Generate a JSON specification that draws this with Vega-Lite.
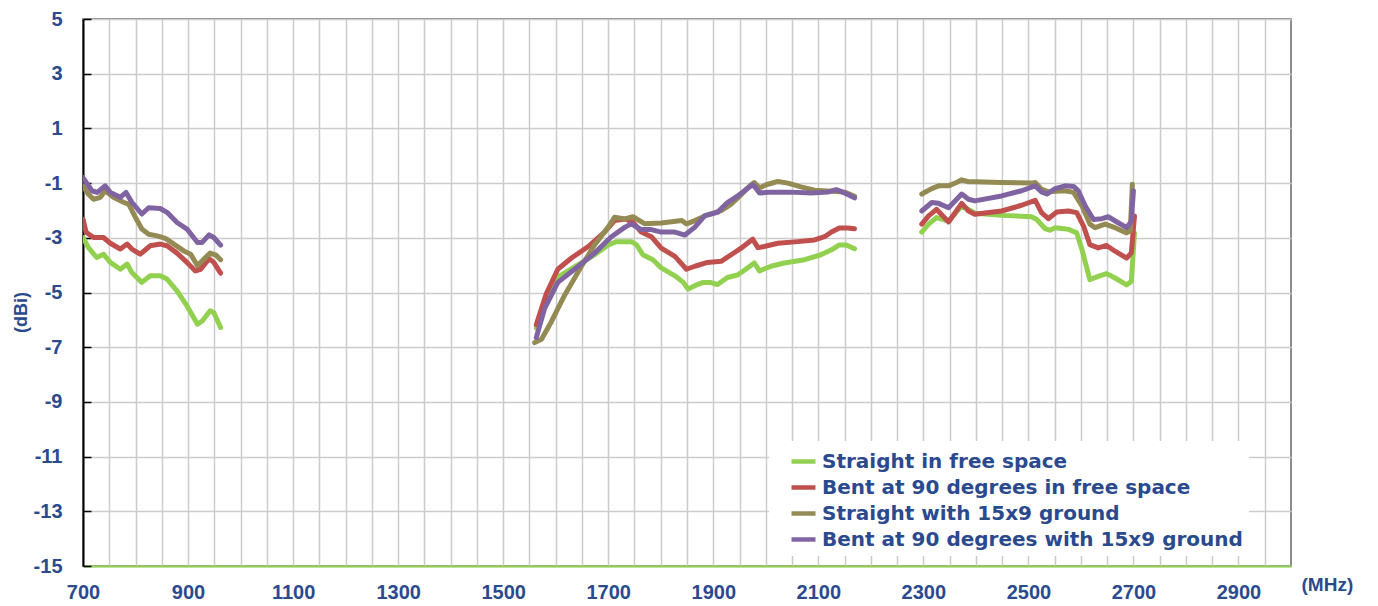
{
  "$schema": "https://vega.github.io/schema/vega-lite/v6.json",
  "width": 1208,
  "height": 547,
  "autosize": {"type": "none"},
  "padding": {"left": 83, "top": 19, "right": 87, "bottom": 40},
  "background": "white",
  "config": {
    "view": {"stroke": "#8c8c8c", "strokeWidth": 2},
    "font": "Liberation Sans"
  },
  "data": {
    "values": [
      {"s": "Straight in free space", "g": 1, "f": 700, "v": -2.99},
      {"s": "Straight in free space", "g": 1, "f": 710, "v": -3.35},
      {"s": "Straight in free space", "g": 1, "f": 726, "v": -3.72},
      {"s": "Straight in free space", "g": 1, "f": 739, "v": -3.6},
      {"s": "Straight in free space", "g": 1, "f": 752, "v": -3.9},
      {"s": "Straight in free space", "g": 1, "f": 771, "v": -4.15},
      {"s": "Straight in free space", "g": 1, "f": 784, "v": -3.96},
      {"s": "Straight in free space", "g": 1, "f": 793, "v": -4.27},
      {"s": "Straight in free space", "g": 1, "f": 812, "v": -4.63},
      {"s": "Straight in free space", "g": 1, "f": 828, "v": -4.39},
      {"s": "Straight in free space", "g": 1, "f": 847, "v": -4.39},
      {"s": "Straight in free space", "g": 1, "f": 860, "v": -4.51},
      {"s": "Straight in free space", "g": 1, "f": 879, "v": -4.94},
      {"s": "Straight in free space", "g": 1, "f": 898, "v": -5.49},
      {"s": "Straight in free space", "g": 1, "f": 918, "v": -6.16},
      {"s": "Straight in free space", "g": 1, "f": 927, "v": -6.04},
      {"s": "Straight in free space", "g": 1, "f": 942, "v": -5.67},
      {"s": "Straight in free space", "g": 1, "f": 949, "v": -5.73},
      {"s": "Straight in free space", "g": 1, "f": 962, "v": -6.28},

      {"s": "Straight in free space", "g": 2, "f": 1563, "v": -6.3},
      {"s": "Straight in free space", "g": 2, "f": 1585, "v": -5.1},
      {"s": "Straight in free space", "g": 2, "f": 1608, "v": -4.39},
      {"s": "Straight in free space", "g": 2, "f": 1643, "v": -3.98},
      {"s": "Straight in free space", "g": 2, "f": 1674, "v": -3.62},
      {"s": "Straight in free space", "g": 2, "f": 1700, "v": -3.26},
      {"s": "Straight in free space", "g": 2, "f": 1716, "v": -3.14},
      {"s": "Straight in free space", "g": 2, "f": 1744, "v": -3.14},
      {"s": "Straight in free space", "g": 2, "f": 1754, "v": -3.26},
      {"s": "Straight in free space", "g": 2, "f": 1766, "v": -3.62},
      {"s": "Straight in free space", "g": 2, "f": 1785, "v": -3.8},
      {"s": "Straight in free space", "g": 2, "f": 1801, "v": -4.1},
      {"s": "Straight in free space", "g": 2, "f": 1827, "v": -4.39},
      {"s": "Straight in free space", "g": 2, "f": 1843, "v": -4.63},
      {"s": "Straight in free space", "g": 2, "f": 1852, "v": -4.87},
      {"s": "Straight in free space", "g": 2, "f": 1865, "v": -4.75},
      {"s": "Straight in free space", "g": 2, "f": 1881, "v": -4.63},
      {"s": "Straight in free space", "g": 2, "f": 1894, "v": -4.63},
      {"s": "Straight in free space", "g": 2, "f": 1908, "v": -4.71},
      {"s": "Straight in free space", "g": 2, "f": 1927, "v": -4.45},
      {"s": "Straight in free space", "g": 2, "f": 1946, "v": -4.36},
      {"s": "Straight in free space", "g": 2, "f": 1962, "v": -4.15},
      {"s": "Straight in free space", "g": 2, "f": 1978, "v": -3.92},
      {"s": "Straight in free space", "g": 2, "f": 1988, "v": -4.21},
      {"s": "Straight in free space", "g": 2, "f": 2010, "v": -4.04},
      {"s": "Straight in free space", "g": 2, "f": 2035, "v": -3.92},
      {"s": "Straight in free space", "g": 2, "f": 2074, "v": -3.8},
      {"s": "Straight in free space", "g": 2, "f": 2105, "v": -3.62},
      {"s": "Straight in free space", "g": 2, "f": 2125, "v": -3.44},
      {"s": "Straight in free space", "g": 2, "f": 2140, "v": -3.26},
      {"s": "Straight in free space", "g": 2, "f": 2153, "v": -3.26},
      {"s": "Straight in free space", "g": 2, "f": 2169, "v": -3.4},

      {"s": "Straight in free space", "g": 3, "f": 2297, "v": -2.79},
      {"s": "Straight in free space", "g": 3, "f": 2310, "v": -2.5},
      {"s": "Straight in free space", "g": 3, "f": 2325, "v": -2.26},
      {"s": "Straight in free space", "g": 3, "f": 2348, "v": -2.39},
      {"s": "Straight in free space", "g": 3, "f": 2373, "v": -1.83},
      {"s": "Straight in free space", "g": 3, "f": 2398, "v": -2.1},
      {"s": "Straight in free space", "g": 3, "f": 2449, "v": -2.18},
      {"s": "Straight in free space", "g": 3, "f": 2506, "v": -2.23},
      {"s": "Straight in free space", "g": 3, "f": 2516, "v": -2.33},
      {"s": "Straight in free space", "g": 3, "f": 2532, "v": -2.67},
      {"s": "Straight in free space", "g": 3, "f": 2541, "v": -2.72},
      {"s": "Straight in free space", "g": 3, "f": 2551, "v": -2.63},
      {"s": "Straight in free space", "g": 3, "f": 2576, "v": -2.69},
      {"s": "Straight in free space", "g": 3, "f": 2592, "v": -2.82},
      {"s": "Straight in free space", "g": 3, "f": 2602, "v": -3.43},
      {"s": "Straight in free space", "g": 3, "f": 2617, "v": -4.53},
      {"s": "Straight in free space", "g": 3, "f": 2633, "v": -4.41},
      {"s": "Straight in free space", "g": 3, "f": 2649, "v": -4.31},
      {"s": "Straight in free space", "g": 3, "f": 2665, "v": -4.47},
      {"s": "Straight in free space", "g": 3, "f": 2687, "v": -4.72},
      {"s": "Straight in free space", "g": 3, "f": 2696, "v": -4.6},
      {"s": "Straight in free space", "g": 3, "f": 2702, "v": -2.82},

      {"s": "Bent at 90 degrees in free space", "g": 1, "f": 700, "v": -2.32},
      {"s": "Bent at 90 degrees in free space", "g": 1, "f": 706, "v": -2.8},
      {"s": "Bent at 90 degrees in free space", "g": 1, "f": 720, "v": -2.99},
      {"s": "Bent at 90 degrees in free space", "g": 1, "f": 739, "v": -2.99},
      {"s": "Bent at 90 degrees in free space", "g": 1, "f": 752, "v": -3.2},
      {"s": "Bent at 90 degrees in free space", "g": 1, "f": 771, "v": -3.41},
      {"s": "Bent at 90 degrees in free space", "g": 1, "f": 784, "v": -3.23},
      {"s": "Bent at 90 degrees in free space", "g": 1, "f": 793, "v": -3.41},
      {"s": "Bent at 90 degrees in free space", "g": 1, "f": 809, "v": -3.6},
      {"s": "Bent at 90 degrees in free space", "g": 1, "f": 828, "v": -3.29},
      {"s": "Bent at 90 degrees in free space", "g": 1, "f": 847, "v": -3.23},
      {"s": "Bent at 90 degrees in free space", "g": 1, "f": 860, "v": -3.29},
      {"s": "Bent at 90 degrees in free space", "g": 1, "f": 879, "v": -3.56},
      {"s": "Bent at 90 degrees in free space", "g": 1, "f": 898, "v": -3.9},
      {"s": "Bent at 90 degrees in free space", "g": 1, "f": 914, "v": -4.21},
      {"s": "Bent at 90 degrees in free space", "g": 1, "f": 924, "v": -4.15},
      {"s": "Bent at 90 degrees in free space", "g": 1, "f": 940, "v": -3.76},
      {"s": "Bent at 90 degrees in free space", "g": 1, "f": 949, "v": -3.9},
      {"s": "Bent at 90 degrees in free space", "g": 1, "f": 962, "v": -4.29},

      {"s": "Bent at 90 degrees in free space", "g": 2, "f": 1563, "v": -6.18},
      {"s": "Bent at 90 degrees in free space", "g": 2, "f": 1582, "v": -5.05},
      {"s": "Bent at 90 degrees in free space", "g": 2, "f": 1604, "v": -4.15},
      {"s": "Bent at 90 degrees in free space", "g": 2, "f": 1630, "v": -3.74},
      {"s": "Bent at 90 degrees in free space", "g": 2, "f": 1662, "v": -3.32},
      {"s": "Bent at 90 degrees in free space", "g": 2, "f": 1693, "v": -2.79},
      {"s": "Bent at 90 degrees in free space", "g": 2, "f": 1712, "v": -2.37},
      {"s": "Bent at 90 degrees in free space", "g": 2, "f": 1732, "v": -2.31},
      {"s": "Bent at 90 degrees in free space", "g": 2, "f": 1747, "v": -2.43},
      {"s": "Bent at 90 degrees in free space", "g": 2, "f": 1763, "v": -2.79},
      {"s": "Bent at 90 degrees in free space", "g": 2, "f": 1782, "v": -2.96},
      {"s": "Bent at 90 degrees in free space", "g": 2, "f": 1801, "v": -3.38},
      {"s": "Bent at 90 degrees in free space", "g": 2, "f": 1827, "v": -3.68},
      {"s": "Bent at 90 degrees in free space", "g": 2, "f": 1849, "v": -4.15},
      {"s": "Bent at 90 degrees in free space", "g": 2, "f": 1865, "v": -4.04},
      {"s": "Bent at 90 degrees in free space", "g": 2, "f": 1889, "v": -3.9},
      {"s": "Bent at 90 degrees in free space", "g": 2, "f": 1915, "v": -3.86},
      {"s": "Bent at 90 degrees in free space", "g": 2, "f": 1934, "v": -3.62},
      {"s": "Bent at 90 degrees in free space", "g": 2, "f": 1953, "v": -3.38},
      {"s": "Bent at 90 degrees in free space", "g": 2, "f": 1975, "v": -3.05},
      {"s": "Bent at 90 degrees in free space", "g": 2, "f": 1985, "v": -3.36},
      {"s": "Bent at 90 degrees in free space", "g": 2, "f": 1997, "v": -3.32},
      {"s": "Bent at 90 degrees in free space", "g": 2, "f": 2023, "v": -3.2},
      {"s": "Bent at 90 degrees in free space", "g": 2, "f": 2061, "v": -3.14},
      {"s": "Bent at 90 degrees in free space", "g": 2, "f": 2093, "v": -3.08},
      {"s": "Bent at 90 degrees in free space", "g": 2, "f": 2112, "v": -2.96},
      {"s": "Bent at 90 degrees in free space", "g": 2, "f": 2125, "v": -2.79},
      {"s": "Bent at 90 degrees in free space", "g": 2, "f": 2140, "v": -2.64},
      {"s": "Bent at 90 degrees in free space", "g": 2, "f": 2156, "v": -2.64},
      {"s": "Bent at 90 degrees in free space", "g": 2, "f": 2169, "v": -2.67},

      {"s": "Bent at 90 degrees in free space", "g": 3, "f": 2297, "v": -2.5},
      {"s": "Bent at 90 degrees in free space", "g": 3, "f": 2310, "v": -2.2},
      {"s": "Bent at 90 degrees in free space", "g": 3, "f": 2325, "v": -1.96},
      {"s": "Bent at 90 degrees in free space", "g": 3, "f": 2348, "v": -2.42},
      {"s": "Bent at 90 degrees in free space", "g": 3, "f": 2373, "v": -1.74},
      {"s": "Bent at 90 degrees in free space", "g": 3, "f": 2386, "v": -2.02},
      {"s": "Bent at 90 degrees in free space", "g": 3, "f": 2398, "v": -2.14},
      {"s": "Bent at 90 degrees in free space", "g": 3, "f": 2449, "v": -2.02},
      {"s": "Bent at 90 degrees in free space", "g": 3, "f": 2487, "v": -1.81},
      {"s": "Bent at 90 degrees in free space", "g": 3, "f": 2513, "v": -1.63},
      {"s": "Bent at 90 degrees in free space", "g": 3, "f": 2525, "v": -2.08},
      {"s": "Bent at 90 degrees in free space", "g": 3, "f": 2538, "v": -2.3},
      {"s": "Bent at 90 degrees in free space", "g": 3, "f": 2554, "v": -2.06},
      {"s": "Bent at 90 degrees in free space", "g": 3, "f": 2576, "v": -2.02},
      {"s": "Bent at 90 degrees in free space", "g": 3, "f": 2592, "v": -2.08},
      {"s": "Bent at 90 degrees in free space", "g": 3, "f": 2605, "v": -2.57},
      {"s": "Bent at 90 degrees in free space", "g": 3, "f": 2617, "v": -3.25},
      {"s": "Bent at 90 degrees in free space", "g": 3, "f": 2633, "v": -3.37},
      {"s": "Bent at 90 degrees in free space", "g": 3, "f": 2649, "v": -3.28},
      {"s": "Bent at 90 degrees in free space", "g": 3, "f": 2665, "v": -3.49},
      {"s": "Bent at 90 degrees in free space", "g": 3, "f": 2687, "v": -3.74},
      {"s": "Bent at 90 degrees in free space", "g": 3, "f": 2696, "v": -3.55},
      {"s": "Bent at 90 degrees in free space", "g": 3, "f": 2702, "v": -2.2},

      {"s": "Straight with 15x9 ground", "g": 1, "f": 700, "v": -1.1},
      {"s": "Straight with 15x9 ground", "g": 1, "f": 710, "v": -1.4},
      {"s": "Straight with 15x9 ground", "g": 1, "f": 720, "v": -1.59},
      {"s": "Straight with 15x9 ground", "g": 1, "f": 733, "v": -1.52},
      {"s": "Straight with 15x9 ground", "g": 1, "f": 742, "v": -1.28},
      {"s": "Straight with 15x9 ground", "g": 1, "f": 758, "v": -1.52},
      {"s": "Straight with 15x9 ground", "g": 1, "f": 777, "v": -1.7},
      {"s": "Straight with 15x9 ground", "g": 1, "f": 787, "v": -1.77},
      {"s": "Straight with 15x9 ground", "g": 1, "f": 800, "v": -2.26},
      {"s": "Straight with 15x9 ground", "g": 1, "f": 812, "v": -2.68},
      {"s": "Straight with 15x9 ground", "g": 1, "f": 825, "v": -2.87},
      {"s": "Straight with 15x9 ground", "g": 1, "f": 841, "v": -2.93},
      {"s": "Straight with 15x9 ground", "g": 1, "f": 857, "v": -3.02},
      {"s": "Straight with 15x9 ground", "g": 1, "f": 873, "v": -3.23},
      {"s": "Straight with 15x9 ground", "g": 1, "f": 892, "v": -3.48},
      {"s": "Straight with 15x9 ground", "g": 1, "f": 905, "v": -3.6},
      {"s": "Straight with 15x9 ground", "g": 1, "f": 918, "v": -4.02},
      {"s": "Straight with 15x9 ground", "g": 1, "f": 930, "v": -3.78},
      {"s": "Straight with 15x9 ground", "g": 1, "f": 942, "v": -3.56},
      {"s": "Straight with 15x9 ground", "g": 1, "f": 953, "v": -3.63},
      {"s": "Straight with 15x9 ground", "g": 1, "f": 962, "v": -3.8},

      {"s": "Straight with 15x9 ground", "g": 2, "f": 1560, "v": -6.83},
      {"s": "Straight with 15x9 ground", "g": 2, "f": 1573, "v": -6.71},
      {"s": "Straight with 15x9 ground", "g": 2, "f": 1592, "v": -6.06},
      {"s": "Straight with 15x9 ground", "g": 2, "f": 1617, "v": -5.1},
      {"s": "Straight with 15x9 ground", "g": 2, "f": 1649, "v": -4.04},
      {"s": "Straight with 15x9 ground", "g": 2, "f": 1674, "v": -3.26},
      {"s": "Straight with 15x9 ground", "g": 2, "f": 1700, "v": -2.61},
      {"s": "Straight with 15x9 ground", "g": 2, "f": 1712, "v": -2.25},
      {"s": "Straight with 15x9 ground", "g": 2, "f": 1732, "v": -2.31},
      {"s": "Straight with 15x9 ground", "g": 2, "f": 1747, "v": -2.23},
      {"s": "Straight with 15x9 ground", "g": 2, "f": 1770, "v": -2.49},
      {"s": "Straight with 15x9 ground", "g": 2, "f": 1801, "v": -2.46},
      {"s": "Straight with 15x9 ground", "g": 2, "f": 1840, "v": -2.37},
      {"s": "Straight with 15x9 ground", "g": 2, "f": 1849, "v": -2.49},
      {"s": "Straight with 15x9 ground", "g": 2, "f": 1865, "v": -2.37},
      {"s": "Straight with 15x9 ground", "g": 2, "f": 1884, "v": -2.2},
      {"s": "Straight with 15x9 ground", "g": 2, "f": 1915, "v": -2.01},
      {"s": "Straight with 15x9 ground", "g": 2, "f": 1934, "v": -1.77},
      {"s": "Straight with 15x9 ground", "g": 2, "f": 1953, "v": -1.42},
      {"s": "Straight with 15x9 ground", "g": 2, "f": 1972, "v": -1.06},
      {"s": "Straight with 15x9 ground", "g": 2, "f": 1978, "v": -0.98},
      {"s": "Straight with 15x9 ground", "g": 2, "f": 1988, "v": -1.18},
      {"s": "Straight with 15x9 ground", "g": 2, "f": 2001, "v": -1.06},
      {"s": "Straight with 15x9 ground", "g": 2, "f": 2023, "v": -0.94},
      {"s": "Straight with 15x9 ground", "g": 2, "f": 2042, "v": -1.0},
      {"s": "Straight with 15x9 ground", "g": 2, "f": 2067, "v": -1.14},
      {"s": "Straight with 15x9 ground", "g": 2, "f": 2093, "v": -1.26},
      {"s": "Straight with 15x9 ground", "g": 2, "f": 2125, "v": -1.3},
      {"s": "Straight with 15x9 ground", "g": 2, "f": 2150, "v": -1.33},
      {"s": "Straight with 15x9 ground", "g": 2, "f": 2169, "v": -1.48},

      {"s": "Straight with 15x9 ground", "g": 3, "f": 2297, "v": -1.4},
      {"s": "Straight with 15x9 ground", "g": 3, "f": 2316, "v": -1.2},
      {"s": "Straight with 15x9 ground", "g": 3, "f": 2329, "v": -1.1},
      {"s": "Straight with 15x9 ground", "g": 3, "f": 2348, "v": -1.1},
      {"s": "Straight with 15x9 ground", "g": 3, "f": 2363, "v": -0.98},
      {"s": "Straight with 15x9 ground", "g": 3, "f": 2373, "v": -0.88},
      {"s": "Straight with 15x9 ground", "g": 3, "f": 2386, "v": -0.95},
      {"s": "Straight with 15x9 ground", "g": 3, "f": 2398, "v": -0.95},
      {"s": "Straight with 15x9 ground", "g": 3, "f": 2449, "v": -0.98},
      {"s": "Straight with 15x9 ground", "g": 3, "f": 2506, "v": -1.0},
      {"s": "Straight with 15x9 ground", "g": 3, "f": 2513, "v": -0.98},
      {"s": "Straight with 15x9 ground", "g": 3, "f": 2525, "v": -1.22},
      {"s": "Straight with 15x9 ground", "g": 3, "f": 2538, "v": -1.32},
      {"s": "Straight with 15x9 ground", "g": 3, "f": 2570, "v": -1.28},
      {"s": "Straight with 15x9 ground", "g": 3, "f": 2586, "v": -1.34},
      {"s": "Straight with 15x9 ground", "g": 3, "f": 2602, "v": -1.83},
      {"s": "Straight with 15x9 ground", "g": 3, "f": 2617, "v": -2.5},
      {"s": "Straight with 15x9 ground", "g": 3, "f": 2627, "v": -2.63},
      {"s": "Straight with 15x9 ground", "g": 3, "f": 2646, "v": -2.5},
      {"s": "Straight with 15x9 ground", "g": 3, "f": 2665, "v": -2.63},
      {"s": "Straight with 15x9 ground", "g": 3, "f": 2687, "v": -2.82},
      {"s": "Straight with 15x9 ground", "g": 3, "f": 2694, "v": -2.75},
      {"s": "Straight with 15x9 ground", "g": 3, "f": 2698, "v": -1.04},

      {"s": "Bent at 90 degrees with 15x9 ground", "g": 1, "f": 700, "v": -0.8},
      {"s": "Bent at 90 degrees with 15x9 ground", "g": 1, "f": 717, "v": -1.28},
      {"s": "Bent at 90 degrees with 15x9 ground", "g": 1, "f": 727, "v": -1.34},
      {"s": "Bent at 90 degrees with 15x9 ground", "g": 1, "f": 742, "v": -1.1},
      {"s": "Bent at 90 degrees with 15x9 ground", "g": 1, "f": 752, "v": -1.34},
      {"s": "Bent at 90 degrees with 15x9 ground", "g": 1, "f": 771, "v": -1.52},
      {"s": "Bent at 90 degrees with 15x9 ground", "g": 1, "f": 782, "v": -1.34},
      {"s": "Bent at 90 degrees with 15x9 ground", "g": 1, "f": 793, "v": -1.7},
      {"s": "Bent at 90 degrees with 15x9 ground", "g": 1, "f": 812, "v": -2.13},
      {"s": "Bent at 90 degrees with 15x9 ground", "g": 1, "f": 825, "v": -1.9},
      {"s": "Bent at 90 degrees with 15x9 ground", "g": 1, "f": 847, "v": -1.93},
      {"s": "Bent at 90 degrees with 15x9 ground", "g": 1, "f": 860, "v": -2.07},
      {"s": "Bent at 90 degrees with 15x9 ground", "g": 1, "f": 879, "v": -2.44},
      {"s": "Bent at 90 degrees with 15x9 ground", "g": 1, "f": 898, "v": -2.68},
      {"s": "Bent at 90 degrees with 15x9 ground", "g": 1, "f": 918, "v": -3.17},
      {"s": "Bent at 90 degrees with 15x9 ground", "g": 1, "f": 927, "v": -3.17},
      {"s": "Bent at 90 degrees with 15x9 ground", "g": 1, "f": 940, "v": -2.89},
      {"s": "Bent at 90 degrees with 15x9 ground", "g": 1, "f": 949, "v": -2.99},
      {"s": "Bent at 90 degrees with 15x9 ground", "g": 1, "f": 962, "v": -3.27},

      {"s": "Bent at 90 degrees with 15x9 ground", "g": 2, "f": 1563, "v": -6.65},
      {"s": "Bent at 90 degrees with 15x9 ground", "g": 2, "f": 1579, "v": -5.58},
      {"s": "Bent at 90 degrees with 15x9 ground", "g": 2, "f": 1604, "v": -4.63},
      {"s": "Bent at 90 degrees with 15x9 ground", "g": 2, "f": 1636, "v": -4.15},
      {"s": "Bent at 90 degrees with 15x9 ground", "g": 2, "f": 1674, "v": -3.56},
      {"s": "Bent at 90 degrees with 15x9 ground", "g": 2, "f": 1706, "v": -2.96},
      {"s": "Bent at 90 degrees with 15x9 ground", "g": 2, "f": 1732, "v": -2.61},
      {"s": "Bent at 90 degrees with 15x9 ground", "g": 2, "f": 1744, "v": -2.49},
      {"s": "Bent at 90 degrees with 15x9 ground", "g": 2, "f": 1763, "v": -2.7},
      {"s": "Bent at 90 degrees with 15x9 ground", "g": 2, "f": 1782, "v": -2.7},
      {"s": "Bent at 90 degrees with 15x9 ground", "g": 2, "f": 1801, "v": -2.79},
      {"s": "Bent at 90 degrees with 15x9 ground", "g": 2, "f": 1827, "v": -2.79},
      {"s": "Bent at 90 degrees with 15x9 ground", "g": 2, "f": 1846, "v": -2.9},
      {"s": "Bent at 90 degrees with 15x9 ground", "g": 2, "f": 1865, "v": -2.61},
      {"s": "Bent at 90 degrees with 15x9 ground", "g": 2, "f": 1884, "v": -2.19},
      {"s": "Bent at 90 degrees with 15x9 ground", "g": 2, "f": 1908, "v": -2.07},
      {"s": "Bent at 90 degrees with 15x9 ground", "g": 2, "f": 1927, "v": -1.71},
      {"s": "Bent at 90 degrees with 15x9 ground", "g": 2, "f": 1946, "v": -1.48},
      {"s": "Bent at 90 degrees with 15x9 ground", "g": 2, "f": 1966, "v": -1.18},
      {"s": "Bent at 90 degrees with 15x9 ground", "g": 2, "f": 1975, "v": -1.06},
      {"s": "Bent at 90 degrees with 15x9 ground", "g": 2, "f": 1981, "v": -1.18},
      {"s": "Bent at 90 degrees with 15x9 ground", "g": 2, "f": 1988, "v": -1.36},
      {"s": "Bent at 90 degrees with 15x9 ground", "g": 2, "f": 2010, "v": -1.33},
      {"s": "Bent at 90 degrees with 15x9 ground", "g": 2, "f": 2048, "v": -1.33},
      {"s": "Bent at 90 degrees with 15x9 ground", "g": 2, "f": 2086, "v": -1.36},
      {"s": "Bent at 90 degrees with 15x9 ground", "g": 2, "f": 2118, "v": -1.33},
      {"s": "Bent at 90 degrees with 15x9 ground", "g": 2, "f": 2134, "v": -1.24},
      {"s": "Bent at 90 degrees with 15x9 ground", "g": 2, "f": 2150, "v": -1.36},
      {"s": "Bent at 90 degrees with 15x9 ground", "g": 2, "f": 2169, "v": -1.54},

      {"s": "Bent at 90 degrees with 15x9 ground", "g": 3, "f": 2297, "v": -2.02},
      {"s": "Bent at 90 degrees with 15x9 ground", "g": 3, "f": 2316, "v": -1.71},
      {"s": "Bent at 90 degrees with 15x9 ground", "g": 3, "f": 2329, "v": -1.74},
      {"s": "Bent at 90 degrees with 15x9 ground", "g": 3, "f": 2348, "v": -1.9},
      {"s": "Bent at 90 degrees with 15x9 ground", "g": 3, "f": 2373, "v": -1.4},
      {"s": "Bent at 90 degrees with 15x9 ground", "g": 3, "f": 2386, "v": -1.59},
      {"s": "Bent at 90 degrees with 15x9 ground", "g": 3, "f": 2398, "v": -1.65},
      {"s": "Bent at 90 degrees with 15x9 ground", "g": 3, "f": 2449, "v": -1.47},
      {"s": "Bent at 90 degrees with 15x9 ground", "g": 3, "f": 2487, "v": -1.28},
      {"s": "Bent at 90 degrees with 15x9 ground", "g": 3, "f": 2513, "v": -1.1},
      {"s": "Bent at 90 degrees with 15x9 ground", "g": 3, "f": 2525, "v": -1.32},
      {"s": "Bent at 90 degrees with 15x9 ground", "g": 3, "f": 2535, "v": -1.4},
      {"s": "Bent at 90 degrees with 15x9 ground", "g": 3, "f": 2551, "v": -1.2},
      {"s": "Bent at 90 degrees with 15x9 ground", "g": 3, "f": 2570, "v": -1.1},
      {"s": "Bent at 90 degrees with 15x9 ground", "g": 3, "f": 2586, "v": -1.12},
      {"s": "Bent at 90 degrees with 15x9 ground", "g": 3, "f": 2595, "v": -1.28},
      {"s": "Bent at 90 degrees with 15x9 ground", "g": 3, "f": 2608, "v": -1.83},
      {"s": "Bent at 90 degrees with 15x9 ground", "g": 3, "f": 2624, "v": -2.33},
      {"s": "Bent at 90 degrees with 15x9 ground", "g": 3, "f": 2640, "v": -2.3},
      {"s": "Bent at 90 degrees with 15x9 ground", "g": 3, "f": 2652, "v": -2.23},
      {"s": "Bent at 90 degrees with 15x9 ground", "g": 3, "f": 2671, "v": -2.45},
      {"s": "Bent at 90 degrees with 15x9 ground", "g": 3, "f": 2687, "v": -2.63},
      {"s": "Bent at 90 degrees with 15x9 ground", "g": 3, "f": 2696, "v": -2.39},
      {"s": "Bent at 90 degrees with 15x9 ground", "g": 3, "f": 2700, "v": -1.28}
    ]
  },
  "mark": {"type": "line", "strokeWidth": 5, "strokeJoin": "round", "strokeCap": "round", "clip": true},
  "encoding": {
    "x": {
      "field": "f",
      "type": "quantitative",
      "scale": {"domain": [700, 3000], "nice": false, "zero": false},
      "axis": {
        "values": [700, 750, 800, 850, 900, 950, 1000, 1050, 1100, 1150, 1200, 1250, 1300, 1350, 1400, 1450, 1500, 1550, 1600, 1650, 1700, 1750, 1800, 1850, 1900, 1950, 2000, 2050, 2100, 2150, 2200, 2250, 2300, 2350, 2400, 2450, 2500, 2550, 2600, 2650, 2700, 2750, 2800, 2850, 2900, 2950],
        "labelExpr": "(datum.value - 700) % 200 == 0 ? datum.label : ''",
        "format": "d",
        "grid": true,
        "gridColor": "#cccccc",
        "gridWidth": 1.5,
        "ticks": false,
        "domainColor": "#92d050",
        "domainWidth": 2,
        "labelFont": "Liberation Sans",
        "labelFontWeight": "bold",
        "labelFontSize": 20,
        "labelColor": "#2b4a8e",
        "labelPadding": 16,
        "labelFlush": false,
        "labelOverlap": false,
        "title": "(MHz)",
        "titleFont": "Liberation Sans",
        "titleFontWeight": "bold",
        "titleFontSize": 19,
        "titleColor": "#2b4a8e",
        "titleAnchor": "start",
        "titleAlign": "left",
        "titleBaseline": "middle",
        "titleX": 1218,
        "titleY": 18
      }
    },
    "y": {
      "field": "v",
      "type": "quantitative",
      "scale": {"domain": [-15, 5], "nice": false, "zero": false},
      "axis": {
        "values": [-15, -13, -11, -9, -7, -5, -3, -1, 1, 3, 5],
        "labelExpr": "replace(datum.label, '\u2212', '-')",
        "grid": true,
        "gridColor": "#cccccc",
        "gridWidth": 1.5,
        "ticks": true,
        "tickSize": -8,
        "tickColor": "#000000",
        "tickWidth": 1.5,
        "domainColor": "#000000",
        "domainWidth": 2,
        "labelFont": "Liberation Sans",
        "labelFontWeight": "bold",
        "labelFontSize": 20,
        "labelColor": "#2b4a8e",
        "labelPadding": 29,
        "title": "(dBi)",
        "titleFont": "Liberation Sans",
        "titleFontWeight": "bold",
        "titleFontSize": 18,
        "titleColor": "#2b4a8e",
        "titleX": -62,
        "titleY": 293,
        "titleAngle": -90,
        "titleAlign": "center",
        "titleBaseline": "middle"
      }
    },
    "color": {
      "field": "s",
      "type": "nominal",
      "sort": ["Straight in free space", "Bent at 90 degrees in free space", "Straight with 15x9 ground", "Bent at 90 degrees with 15x9 ground"],
      "scale": {
        "domain": ["Straight in free space", "Bent at 90 degrees in free space", "Straight with 15x9 ground", "Bent at 90 degrees with 15x9 ground"],
        "range": ["#92d050", "#c0504d", "#948a54", "#8064a2"]
      },
      "legend": {
        "title": null,
        "orient": "none",
        "legendX": 686,
        "legendY": 422,
        "fillColor": "white",
        "padding": 6,
        "symbolType": "stroke",
        "symbolSize": 576,
        "symbolStrokeWidth": 4.5,
        "symbolOffset": 14,
        "labelFont": "DejaVu Sans",
        "labelFontWeight": "bold",
        "labelFontSize": 20,
        "labelColor": "#2b4a8e",
        "labelOffset": 4,
        "labelLimit": 600,
        "rowPadding": 1
      }
    },
    "detail": {"field": "g", "type": "nominal"},
    "order": {"field": "f", "type": "quantitative"}
  }
}
